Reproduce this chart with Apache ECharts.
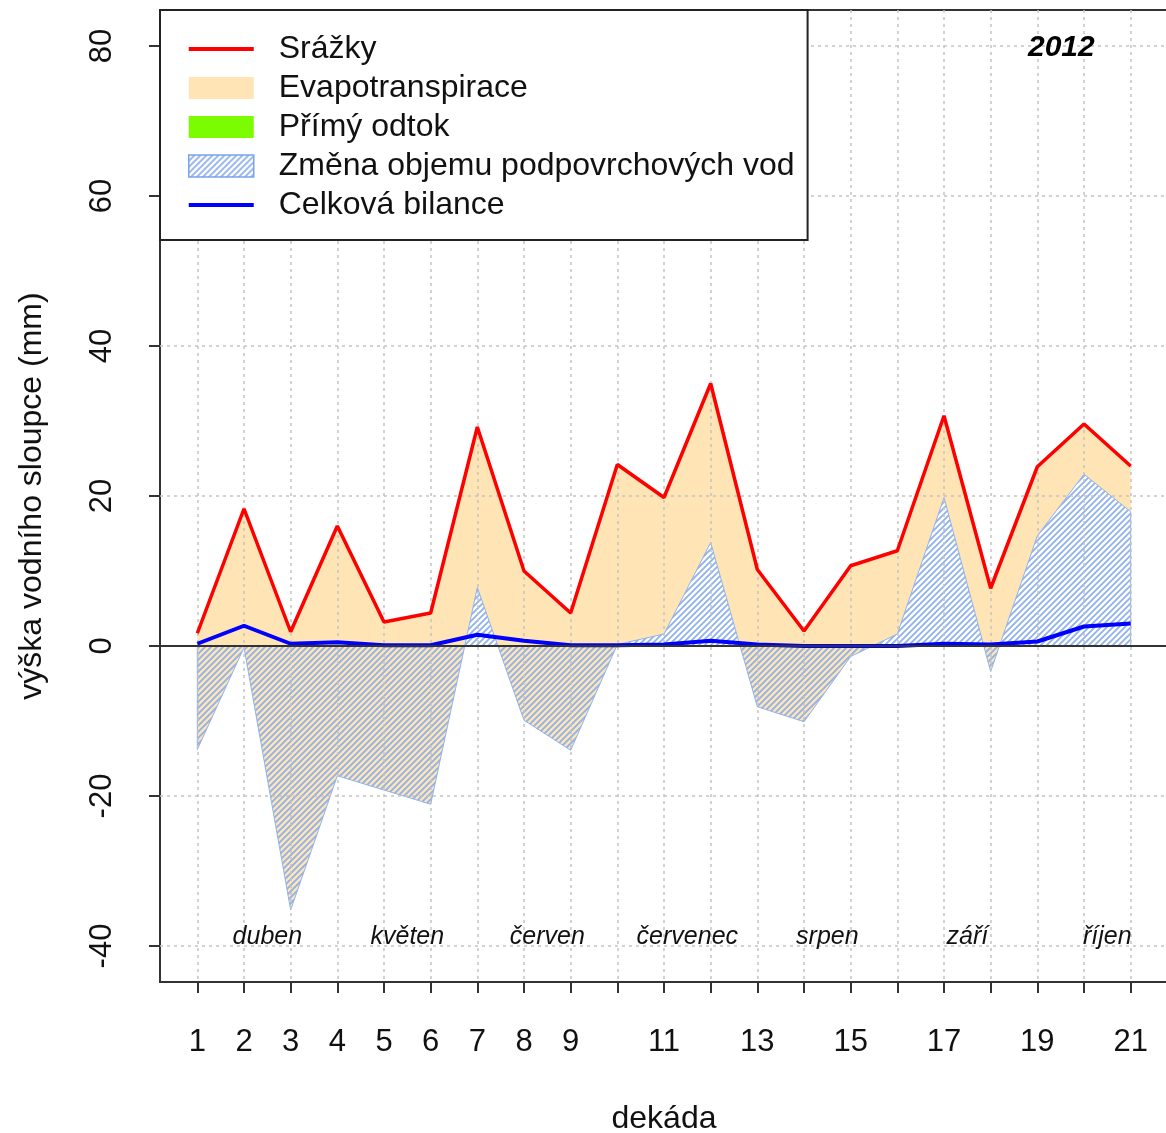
<!DOCTYPE html>
<html>
<head>
<meta charset="utf-8">
<script src="https://cdn.jsdelivr.net/npm/echarts@6/dist/echarts.min.js"></script>
<style>html,body{margin:0;padding:0;background:#fff}#c{width:1166px;height:1133px}</style>
</head>
<body>
<div id="c"></div>
<script>
// ---- data ----
const dekady = [1,2,3,4,5,6,7,8,9,10,11,12,13,14,15,16,17,18,19,20,21];
const xTickLabels = ['1','2','3','4','5','6','7','8','9','','11','','13','','15','','17','','19','','21'];
const yTicks = [-40,-20,0,20,40,60,80];
const srazky = [1.7,18.3,1.9,16.0,3.2,4.4,29.2,10.0,4.4,24.2,19.8,35.0,10.2,2.0,10.7,12.7,30.7,7.7,23.9,29.6,24.0];
const zmenaObjemu = [-13.8,-0.2,-35.2,-17.3,-19.2,-21.1,7.8,-9.9,-13.9,0.2,1.6,13.8,-8.1,-10.1,-1.4,1.6,19.8,-3.4,14.7,22.9,17.9];
const primyOdtok = [0,0,0,0,0,0,0,0,0,0,0,0,0,0,0,0,0,0,0,0,0];
const bilance = [0.3,2.7,0.3,0.5,0.1,0.1,1.5,0.7,0.1,0.1,0.2,0.7,0.2,0.0,0.0,0.0,0.3,0.2,0.6,2.6,3.0];
const mesice = ['duben','květen','červen','červenec','srpen','září','říjen'];
const mesicePozice = [2.5,5.5,8.5,11.5,14.5,17.5,20.5];
const mesiceY = -38.8;
const rok = '2012';
const names = ['Srážky','Evapotranspirace','Přímý odtok','Změna objemu podpovrchových vod','Celková bilance'];

// ---- styles ----
const FONT = '"Liberation Sans", Arial, sans-serif';
const BEIGE = '#FFE4B5';
const HATCH_BLUE = '#8fb1ec';
const LINE_ICON = 'path://M0,0H60V3.5H0Z';

function makeHatch() {
  const s = 6;
  const c = document.createElement('canvas');
  c.width = s; c.height = s;
  const g = c.getContext('2d');
  g.strokeStyle = HATCH_BLUE;
  g.lineWidth = 1.8;
  g.beginPath();
  g.moveTo(0, s); g.lineTo(s, 0);
  g.moveTo(-1, 1); g.lineTo(1, -1);
  g.moveTo(s - 1, s + 1); g.lineTo(s + 1, s - 1);
  g.stroke();
  return { image: c, repeat: 'repeat' };
}
const hatch = makeHatch();

const chart = echarts.init(document.getElementById('c'), null, { renderer: 'canvas' });

const option = {
  animation: false,
  backgroundColor: '#fff',
  textStyle: { fontFamily: FONT },
  title: {
    text: rok, left: 1028, top: 33, padding: 0,
    textStyle: { fontFamily: FONT, fontSize: 30, fontWeight: 'bold', fontStyle: 'italic', color: '#000' }
  },
  grid: {
    left: 160, top: 10, right: -2, bottom: 151,
    show: true, borderColor: '#333', borderWidth: 2, backgroundColor: 'transparent',
    containLabel: false, outerBoundsMode: 'none'
  },
  legend: {
    orient: 'vertical', left: 160, top: 10,
    padding: [23, 13, 19, 28], itemGap: 7, itemWidth: 65, itemHeight: 22,
    backgroundColor: '#fff', borderColor: '#222', borderWidth: 2, borderRadius: 0,
    selectedMode: false, z: 20, symbolKeepAspect: true,
    textStyle: { fontFamily: FONT, fontSize: 32, color: '#111', padding: [0, 0, 0, 20] },
    data: [
      { name: names[0], icon: LINE_ICON },
      { name: names[1], icon: 'rect' },
      { name: names[2], icon: 'rect' },
      { name: names[3], icon: 'rect', itemStyle: { color: hatch, borderColor: '#7aa3ee', borderWidth: 1.5 } },
      { name: names[4], icon: LINE_ICON }
    ]
  },
  xAxis: {
    type: 'value', min: 0.2, max: 21.8, z: 2,
    axisLine: { show: false, onZero: false },
    axisTick: { show: true, customValues: dekady, length: 11, lineStyle: { color: '#333', width: 2 } },
    axisLabel: {
      customValues: dekady, margin: 45, fontSize: 31, color: '#111', fontFamily: FONT,
      formatter: v => xTickLabels[dekady.indexOf(v)] || ''
    },
    splitLine: { show: true, lineStyle: { type: [3, 4], color: '#c4c4c4', width: 1.5 } },
    name: 'dekáda', nameLocation: 'middle', nameGap: 121,
    nameTextStyle: { fontSize: 32, color: '#111', fontFamily: FONT }
  },
  yAxis: {
    type: 'value', min: -44.8, max: 84.8, z: 2,
    axisLine: { show: false, onZero: false },
    axisTick: { show: true, customValues: yTicks, length: 11, lineStyle: { color: '#333', width: 2 } },
    axisLabel: { customValues: yTicks, rotate: 90, margin: 42, fontSize: 31, color: '#111', fontFamily: FONT },
    splitLine: { show: true, lineStyle: { type: [3, 4], color: '#c4c4c4', width: 1.5 } },
    name: 'výška vodního sloupce (mm)', nameLocation: 'middle', nameGap: 112, nameRotate: 90,
    nameTextStyle: { fontSize: 32, color: '#111', fontFamily: FONT }
  },
  series: [
    {
      type: 'custom', name: names[1], z: 1,
      itemStyle: { color: BEIGE },
      data: dekady.map((d, i) => [d, srazky[i], zmenaObjemu[i] + primyOdtok[i]]),
      encode: { x: 0, y: [1, 2] },
      renderItem: (params, api) => {
        if (params.dataIndex !== 0) return null;
        const top = dekady.map((d, i) => api.coord([d, srazky[i]]));
        const bot = dekady.map((d, i) => api.coord([d, zmenaObjemu[i] + primyOdtok[i]])).reverse();
        return { type: 'polygon', shape: { points: top.concat(bot) }, style: { fill: BEIGE, stroke: null } };
      }
    },
    {
      type: 'custom', name: names[2], z: 1,
      itemStyle: { color: '#7CFC00' },
      data: dekady.map((d, i) => [d, zmenaObjemu[i], zmenaObjemu[i] + primyOdtok[i]]),
      encode: { x: 0, y: [1, 2] },
      renderItem: (params, api) => {
        if (params.dataIndex !== 0) return null;
        const top = dekady.map((d, i) => api.coord([d, zmenaObjemu[i] + primyOdtok[i]]));
        const bot = dekady.map((d, i) => api.coord([d, zmenaObjemu[i]])).reverse();
        return { type: 'polygon', shape: { points: top.concat(bot) }, style: { fill: '#7CFC00', stroke: null } };
      }
    },
    {
      type: 'custom', name: names[3], z: 1.5,
      itemStyle: { color: hatch },
      data: dekady.map((d, i) => [d, zmenaObjemu[i], 0]),
      encode: { x: 0, y: [1, 2] },
      renderItem: (params, api) => {
        if (params.dataIndex !== 0) return null;
        const pts = dekady.map((d, i) => api.coord([d, zmenaObjemu[i]]));
        pts.push(api.coord([dekady[dekady.length - 1], 0]));
        pts.push(api.coord([dekady[0], 0]));
        return { type: 'polygon', shape: { points: pts }, style: { fill: hatch, stroke: '#8fb3ef', lineWidth: 1 } };
      }
    },
    {
      type: 'line', name: names[0], z: 3,
      data: dekady.map((d, i) => [d, srazky[i]]),
      symbol: 'none', lineStyle: { color: '#FF0000', width: 3.5 }, itemStyle: { color: '#FF0000' },
      markLine: {
        silent: true, symbol: 'none', label: { show: false },
        lineStyle: { type: 'solid', color: '#333', width: 2 },
        data: [{ yAxis: 0 }]
      }
    },
    {
      type: 'line', name: names[4], z: 4,
      data: dekady.map((d, i) => [d, bilance[i]]),
      symbol: 'none', lineStyle: { color: '#0000FF', width: 4 }, itemStyle: { color: '#0000FF' }
    },
    {
      type: 'scatter', name: 'mesice', z: 3, symbolSize: 0, silent: true,
      itemStyle: { opacity: 1 },
      data: mesicePozice.map((x, i) => ({ value: [x, mesiceY], name: mesice[i] })),
      label: {
        show: true, position: 'inside', formatter: '{b}',
        fontFamily: FONT, fontSize: 25, fontStyle: 'italic', color: '#111', opacity: 1
      }
    }
  ]
};
chart.setOption(option);
</script>
</body>
</html>
